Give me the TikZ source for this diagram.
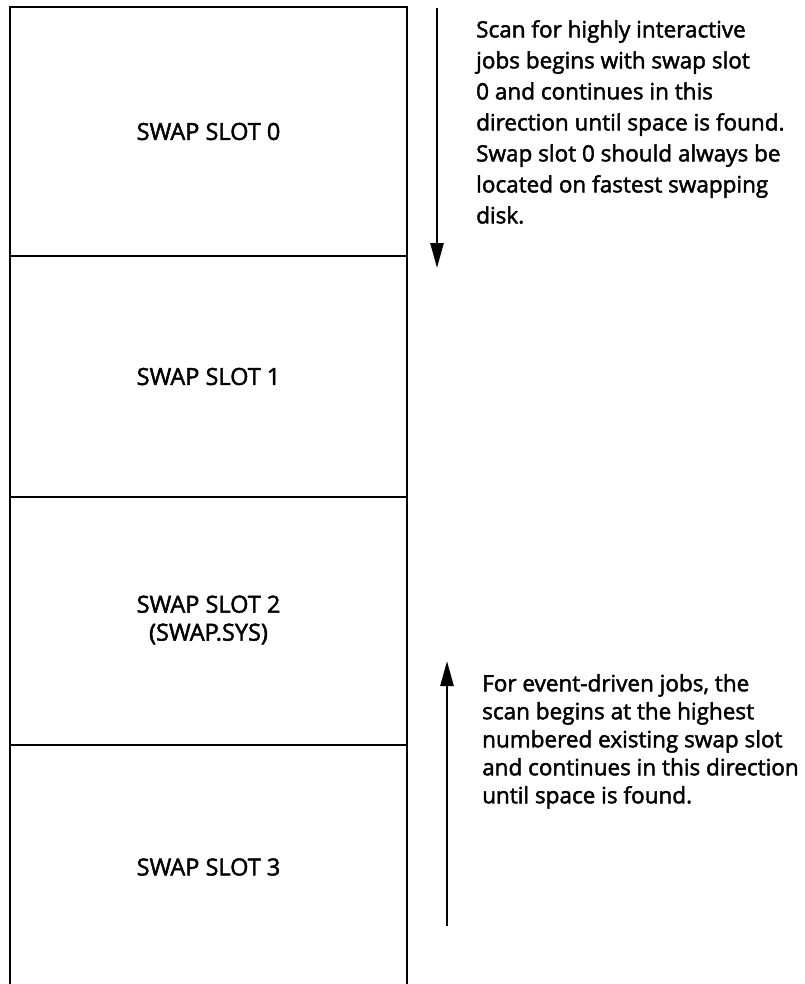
\documentclass[tikz,border=0pt]{standalone}
\usepackage{fontspec}
\setmainfont{Open Sans}[FakeBold=2]
\usetikzlibrary{arrows.meta}
\begin{document}
\begin{tikzpicture}[x=1pt,y=-1pt,
  slotbox/.style={draw, line width=2.8pt, minimum width=397pt, inner sep=0pt, outer sep=0pt,
    font=\fontsize{23.5}{28}\selectfont, align=center, anchor=north west},
  note/.style={align=left, anchor=north west, inner sep=0pt},
  scanarrow/.style={line width=2.6pt, -{Triangle[length=25pt,width=13pt]}}]
\useasboundingbox (0,0) rectangle (804,984);
\fill[white] (0,0) rectangle (804,984);
\clip (0,0) rectangle (804,984);
% swap slots
\node[slotbox, minimum height=249pt] (s0) at (10,7) {SWAP SLOT 0};
\node[slotbox, minimum height=241pt] (s1) at (s0.south west) {SWAP SLOT 1};
\node[slotbox, minimum height=248pt] (s2) at (s1.south west) {\raisebox{-6pt}{\begin{tabular}{@{}c@{}}SWAP SLOT 2\\(SWAP.SYS)\end{tabular}}};
\node[slotbox, minimum height=244pt] (s3) at (s2.south west) {SWAP SLOT 3};
% scan directions
\coordinate (downstart) at (437,8);
\coordinate (downend) at (437,268);
\draw[scanarrow] (downstart) -- (downend);
\coordinate (upstart) at (447,926);
\coordinate (upend) at (447,661);
\draw[scanarrow] (upstart) -- (upend);
% notes
\node[note, font=\fontsize{22.5}{31}\selectfont] (n0) at (476,20) {Scan for highly interactive\\jobs begins with swap slot\\0 and continues in this\\direction until space is found.\\Swap slot 0 should always be\\located on fastest swapping\\disk.};
\node[note, font=\fontsize{22.5}{28}\selectfont] (n1) at (482,674) {For event-driven jobs, the\\scan begins at the highest\\numbered existing swap slot\\and continues in this direction\\until space is found.};
\end{tikzpicture}
\end{document}
